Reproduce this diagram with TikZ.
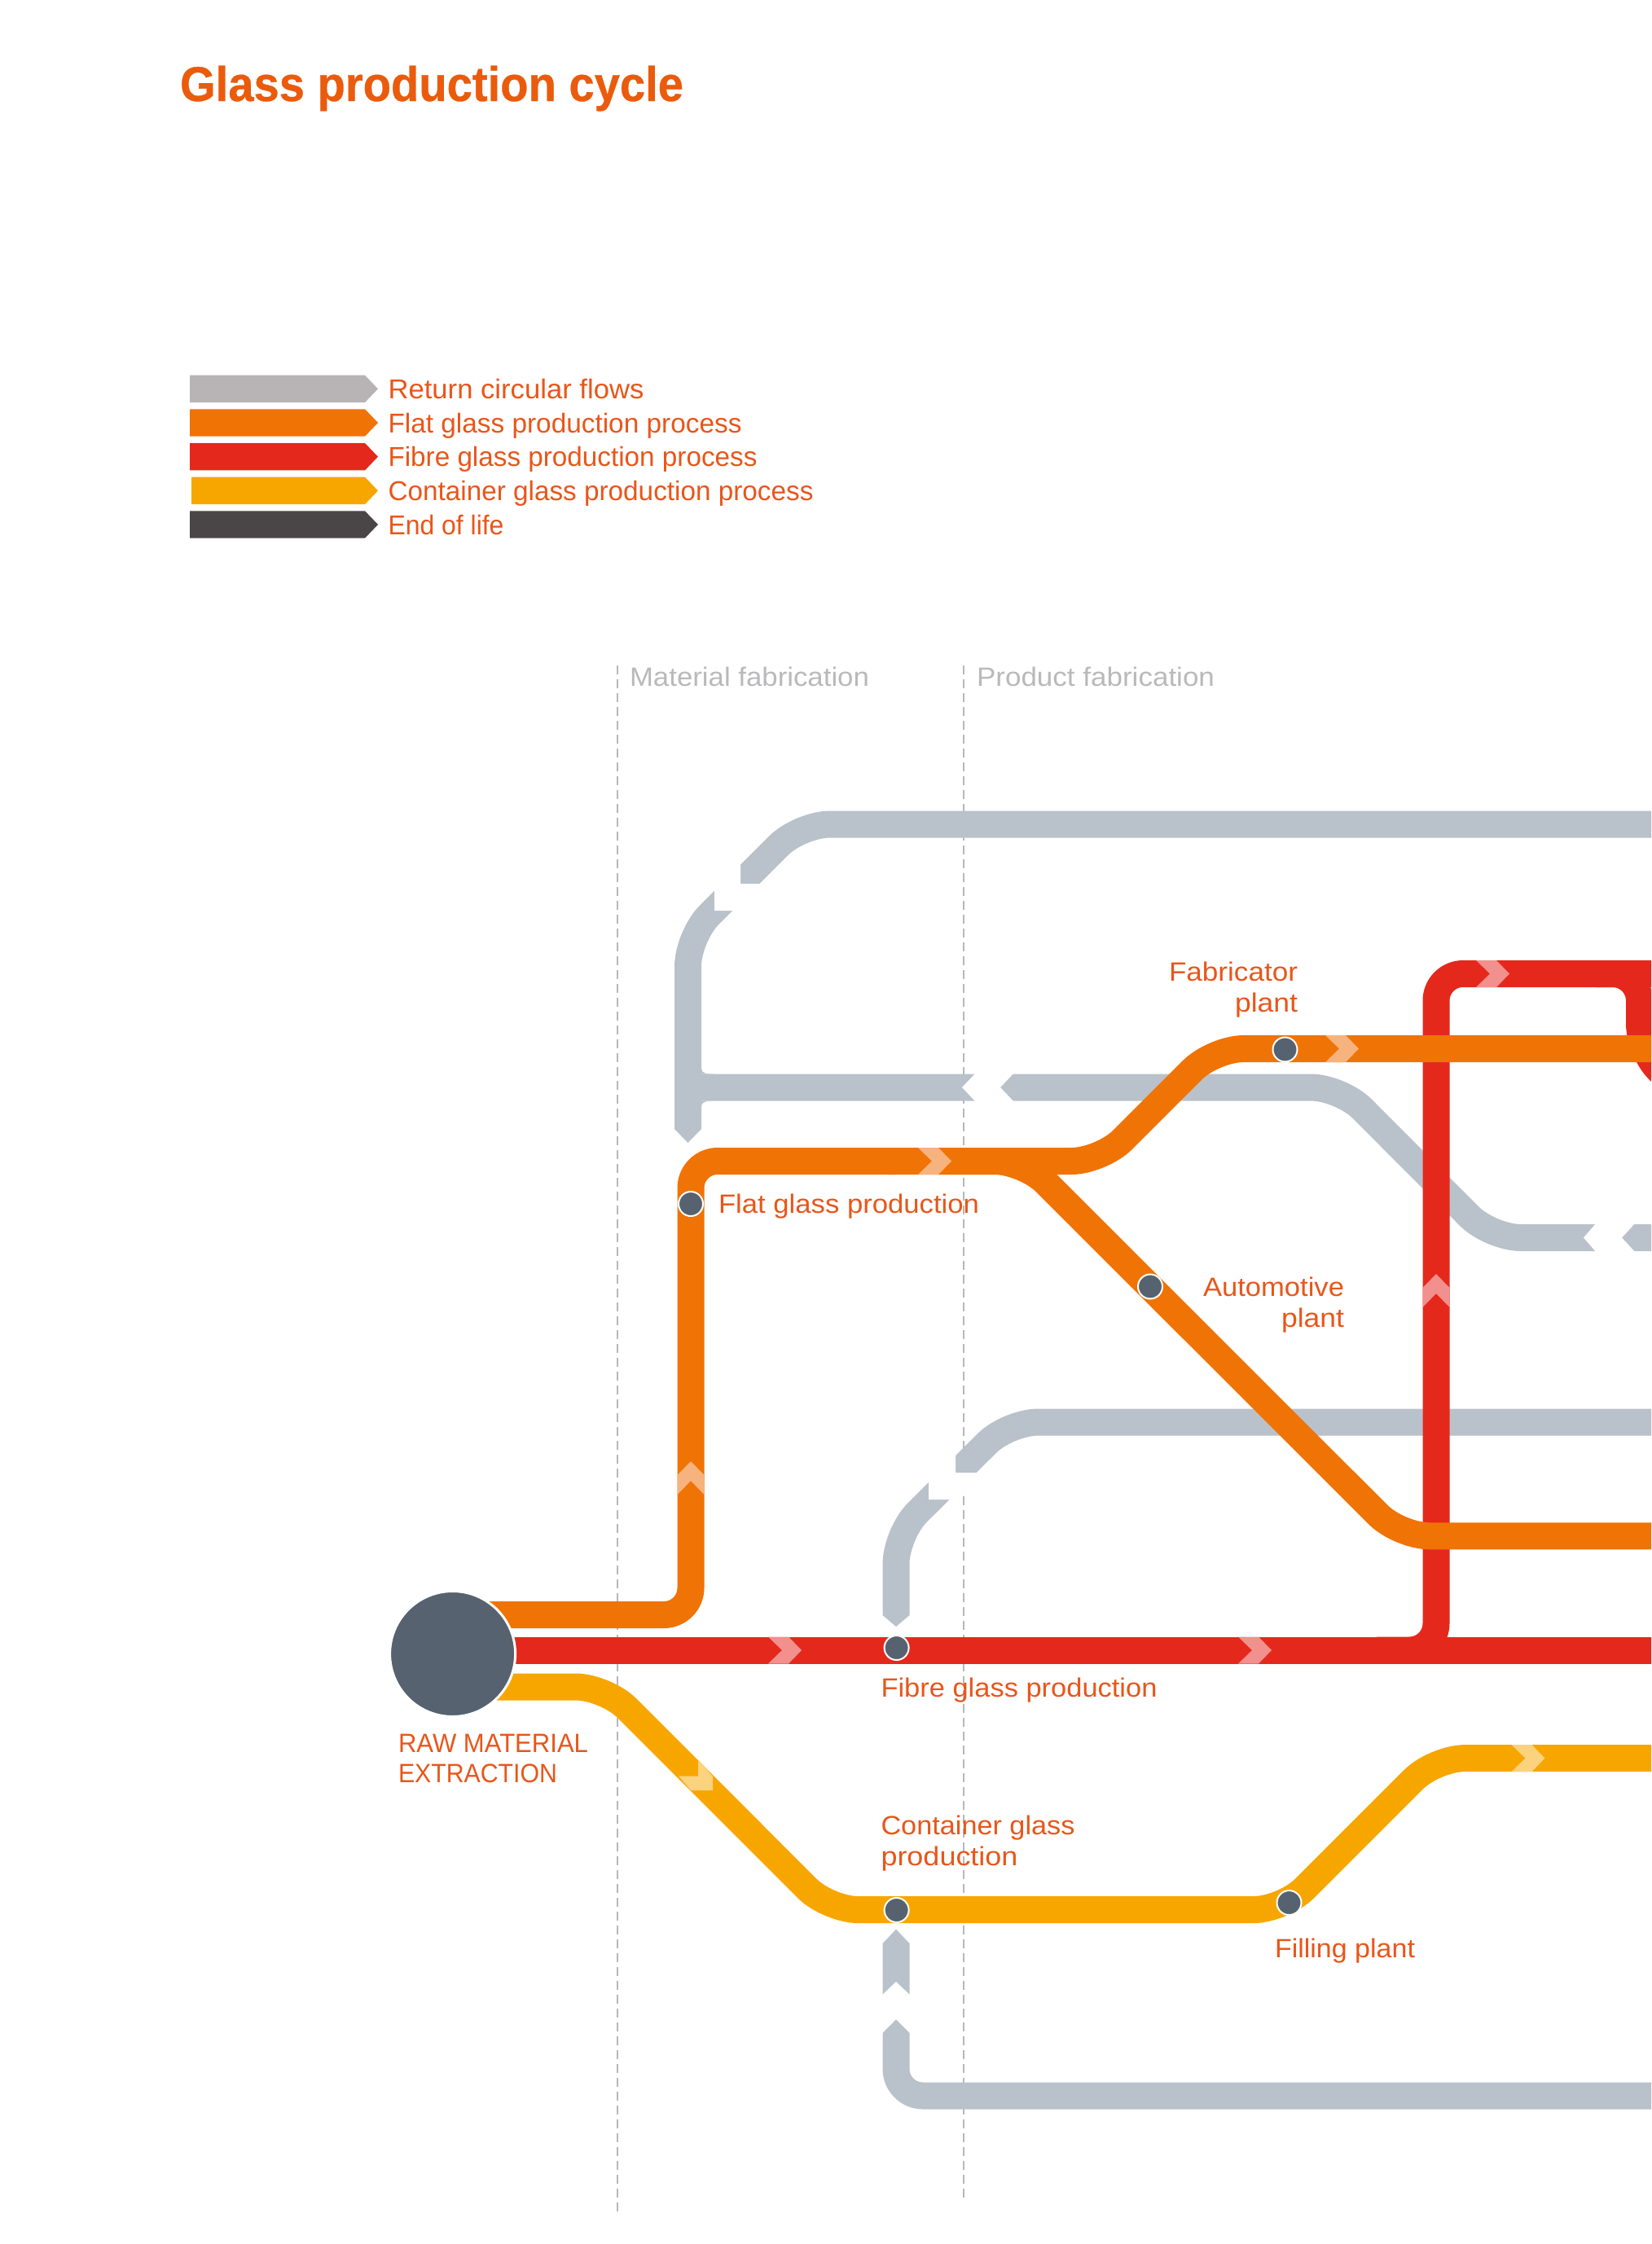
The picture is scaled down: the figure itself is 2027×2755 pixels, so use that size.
\documentclass[tikz,border=0pt]{standalone}
\usepackage{fontspec}
\setmainfont{Liberation Sans}
\newfontfamily\titlefont[FakeBold=0.6]{Liberation Sans Bold}
\definecolor{txt}{HTML}{E8561A}
\definecolor{ttl}{HTML}{EA5B0C}
\definecolor{gline}{HTML}{B9C2CA}
\definecolor{gleg}{HTML}{B8B4B6}
\definecolor{oline}{HTML}{F07305}
\definecolor{rline}{HTML}{E5281C}
\definecolor{yline}{HTML}{F7A600}
\definecolor{dleg}{HTML}{4A4547}
\definecolor{dotc}{HTML}{56626F}
\definecolor{dash}{HTML}{B5B8BC}
\definecolor{olite}{HTML}{F7B37D}
\definecolor{rlite}{HTML}{F2908D}
\definecolor{ylite}{HTML}{FBD27E}
\definecolor{hdr}{HTML}{B9B9BB}
\newcommand{\fitw}[2]{\resizebox{#1pt}{\height}{#2}}
\newcommand{\legarrow}[3]{\fill[#1] (#2,#3) -- (448,#3) -- (464,#3+16.7) -- (448,#3+33.4) -- (#2,#3+33.4) -- cycle;}
\newcommand{\chevR}[3]{\fill[#3,shift={(#1,#2)}] (-17,-16.5) -- (8,-16.5) -- (24,0) -- (8,16.5) -- (-17,16.5) -- (0,0) -- cycle;}
\newcommand{\chevU}[3]{\fill[#3,shift={(#1,#2)}] (-16.5,17) -- (-16.5,-7) -- (0,-24) -- (16.5,-7) -- (16.5,17) -- (0,0) -- cycle;}
\tikzset{
  x=1pt,y=-1pt,
  lbl/.style={inner sep=0pt,outer sep=0pt,text=txt,font=\fontsize{32.5}{32.5}\selectfont},
  leglbl/.style={inner sep=0pt,outer sep=0pt,text=txt,font=\fontsize{33.5}{33.5}\selectfont,anchor=base west},
  hdrlbl/.style={inner sep=0pt,outer sep=0pt,text=hdr,font=\fontsize{32.5}{32.5}\selectfont,anchor=base west},
  band/.style={line width=33pt,rounded corners=33pt,line cap=butt,line join=round},
  wide/.style={rounded corners=37pt},
  greyband/.style={band,draw=gline},
  orangeband/.style={band,draw=oline},
  redband/.style={band,draw=rline},
  yellowband/.style={band,draw=yline},
  gap/.style={fill=white},
  tip/.style={fill=gline},
  guide/.style={draw=dash,line width=2pt,dash pattern=on 11pt off 6pt},
  stop/.style={circle,fill=dotc,draw=white,line width=2pt,minimum size=30pt,inner sep=0pt,outer sep=0pt},
}
\begin{document}
\begin{tikzpicture}
\useasboundingbox (0,0) rectangle (2027,2755);
\clip (0,0) rectangle (2027,2755);
% title
\node[inner sep=0pt,outer sep=0pt,anchor=base west,text=ttl,font=\titlefont\fontsize{60}{60}\selectfont] (title) at (221,124) {\fitw{618}{Glass production cycle}};
% legend
\legarrow{gleg}{233}{460.7}
\legarrow{oline}{233}{502.3}
\legarrow{rline}{233}{544}
\legarrow{yline}{235}{585.7}
\legarrow{dleg}{233}{627.3}
\node[leglbl] (leg1) at (476.5,489) {\fitw{314}{Return circular flows}};
\node[leglbl] (leg2) at (476.5,531) {\fitw{434}{Flat glass production process}};
\node[leglbl] (leg3) at (476.5,572.7) {\fitw{453}{Fibre glass production process}};
\node[leglbl] (leg4) at (476.5,614) {\fitw{522}{Container glass production process}};
\node[leglbl] (leg5) at (476.5,656) {\fitw{142}{End of life}};
% guides
\draw[guide] (758,817) -- (758,2716);
\draw[guide] (1183,817) -- (1183,2701);
\node[hdrlbl] (mat) at (773,842) {\fitw{294}{Material fabrication}};
\node[hdrlbl] (prod) at (1199,842) {\fitw{292}{Product fabrication}};
% grey return lines
\draw[greyband,wide] (2060,1012) -- (982,1012) -- (844.5,1149.5) -- (844.5,1386);
\fill[tip] (828,1386) -- (861,1386) -- (844.5,1403) -- cycle;
\fill[gap] (909,1055) -- (909,1085) -- (940,1085) -- (907,1118) -- (877,1118) -- (877,1087) -- cycle;
\draw[greyband,wide] (2060,1519.5) -- (1830,1519.5) -- (1646,1335) -- (845,1335);
\fill[tip] (861,1312) .. controls (861,1318) and (868,1318.5) .. (878,1318.5) -- (861,1318.5) -- cycle;
\fill[tip] (861,1359) .. controls (861,1352) and (868,1351.5) .. (878,1351.5) -- (861,1351.5) -- cycle;
\fill[gap] (1199,1316) -- (1181,1335) -- (1199,1354) -- (1246,1354) -- (1228,1335) -- (1246,1316) -- cycle;
\fill[gap] (1960,1501) -- (1944,1519.5) -- (1960,1538) -- (2008,1538) -- (1991,1519.5) -- (2008,1501) -- cycle;
\draw[greyband,wide] (2060,1746) -- (1237.5,1746) -- (1100,1883) -- (1100,1983);
\fill[tip] (1083.5,1983) -- (1116.5,1983) -- (1100,1997) -- cycle;
\fill[gap] (1173,1781) -- (1173,1808) -- (1206,1808) -- (1173,1841) -- (1140,1841) -- (1140,1814) -- cycle;
\draw[greyband] (2060,2573) -- (1100,2573) -- (1100,2386);
\fill[tip] (1083.5,2386) -- (1116.5,2386) -- (1100,2368.6) -- cycle;
\fill[gap] (1081,2451) -- (1100,2433) -- (1119,2451) -- (1119,2498) -- (1100,2479) -- (1081,2498) -- cycle;
% red lines
\draw[redband] (2060,1195.5) -- (1763,1195.5) -- (1763,2026) -- (1690,2026);
\draw[redband] (1960,1195.5) -- (2012.5,1195.5) -- (2012.5,1290) -- (2100,1377.5);
\draw[redband,rounded corners=0pt] (555,2026) -- (2060,2026);
% orange lines
\draw[orangeband] (555,1982.5) -- (848,1982.5) -- (848,1425.5) -- (1100,1425.5);
\draw[orangeband,wide] (1090,1425.5) -- (1352,1425.5) -- (1490,1287.5) -- (2060,1287.5);
\draw[orangeband,wide] (1150,1425.5) -- (1257.5,1425.5) -- (1718,1885.8) -- (2060,1885.8);
% yellow line
\draw[yellowband,wide] (555,2071) -- (743.5,2071) -- (1017,2344.6) -- (1575.4,2344.6) -- (1761.4,2158.6) -- (2060,2158.6);
% flow chevrons
\chevR{1144}{1425.5}{olite}
\chevR{1644}{1287.5}{olite}
\chevR{1829}{1195.5}{rlite}
\chevU{1763}{1588}{rlite}
\chevU{848}{1818}{olite}
\chevR{960}{2026}{rlite}
\chevR{1537}{2026}{rlite}
\chevR{1872.5}{2158.6}{ylite}
\fill[ylite] (857,2160) -- (875,2181) -- (875,2198) -- (848,2198) -- (833,2180.5) -- (857,2180.5) -- cycle;
% stops
\node[circle,fill=dotc,draw=white,line width=3pt,minimum size=154pt,inner sep=0pt,outer sep=0pt] (raw) at (555.6,2030.5) {};
\node[stop] (sflat) at (848,1478) {};
\node[stop] (sfab) at (1577.5,1288.5) {};
\node[stop] (sauto) at (1412,1579.5) {};
\node[stop] (sfibre) at (1100.6,2023) {};
\node[stop] (scont) at (1100.6,2345) {};
\node[stop] (sfill) at (1582.5,2336) {};
% labels
\node[lbl,anchor=base west] (lraw1) at (489,2151.4) {\fitw{233}{RAW MATERIAL}};
\node[lbl,anchor=base west] (lraw2) at (489,2188) {\fitw{195}{EXTRACTION}};
\node[lbl,anchor=base west] (lflat) at (882,1489.6) {\fitw{320}{Flat glass production}};
\node[lbl,anchor=base east] (lfab1) at (1593,1204.7) {\fitw{158}{Fabricator}};
\node[lbl,anchor=base east] (lfab2) at (1593,1242.7) {\fitw{77}{plant}};
\node[lbl,anchor=base east] (lauto1) at (1650,1591.7) {\fitw{173}{Automotive}};
\node[lbl,anchor=base east] (lauto2) at (1650,1629.7) {\fitw{77}{plant}};
\node[lbl,anchor=base west] (lfibre) at (1081.5,2083) {\fitw{339}{Fibre glass production}};
\node[lbl,anchor=base west] (lcont1) at (1081.5,2252.5) {\fitw{238}{Container glass}};
\node[lbl,anchor=base west] (lcont2) at (1081.5,2290) {\fitw{168}{production}};
\node[lbl,anchor=base west] (lfill) at (1565,2403.7) {\fitw{172}{Filling plant}};
\end{tikzpicture}
\end{document}
